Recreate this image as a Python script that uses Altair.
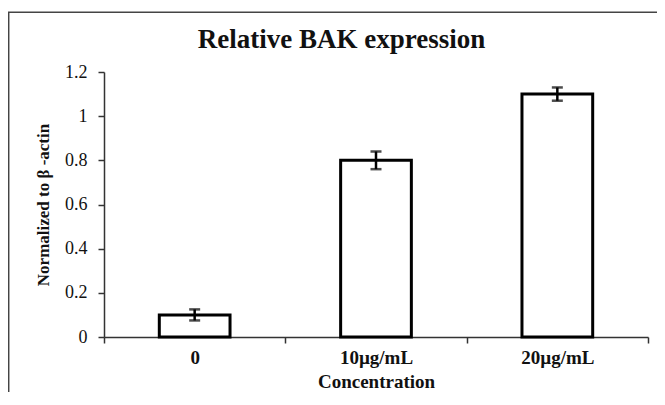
import altair as alt
import pandas as pd

categories = ["0", "10µg/mL", "20µg/mL"]
values = [0.1, 0.8, 1.1]
errors = [0.025, 0.04, 0.03]
y_ticks = [0, 0.2, 0.4, 0.6, 0.8, 1.0, 1.2]

df = pd.DataFrame({
    "cat": categories,
    "val": values,
    "lo": [v - e for v, e in zip(values, errors)],
    "hi": [v + e for v, e in zip(values, errors)],
})

FONT = "Liberation Serif"
AX = "#333333"

x_enc = alt.X(
    "cat:N", sort=categories,
    scale=alt.Scale(paddingInner=0, paddingOuter=0),
    axis=alt.Axis(
        title="Concentration", labelAngle=0, tickBand="extent",
        tickSize=6, tickWidth=1.5, tickColor=AX,
        domainColor=AX, domainWidth=1.5,
        labelPadding=20, labelBaseline="alphabetic",
        labelFont=FONT, labelFontSize=19, labelFontWeight="bold", labelColor="#111111",
        titleFont=FONT, titleFontSize=19, titleFontWeight="bold", titleColor="#111111",
        titleY=50, titleBaseline="alphabetic",
    ),
)

y_scale = alt.Scale(domain=[0, 1.2], nice=False)

bars = alt.Chart(df).mark_bar(
    width=alt.RelativeBandSize(0.39), fill="white", stroke="black", strokeWidth=3
).encode(
    x=x_enc,
    y=alt.Y(
        "val:Q", scale=y_scale,
        axis=alt.Axis(
            values=y_ticks, format="~g", grid=False,
            tickSize=6, tickWidth=1.5, tickColor=AX,
            domainColor=AX, domainWidth=1.5,
            labelPadding=11, labelFont=FONT, labelFontSize=18, labelColor="#111111",
            title="Normalized to β -actin", titleFont=FONT, titleFontSize=17,
            titleFontWeight="bold", titleColor="#111111",
            titleX=-61, titleY=132.5, titleAngle=270,
            titleBaseline="middle", titleAlign="center",
        ),
    ),
)

err = alt.Chart(df).mark_rule(strokeWidth=2.5, color="black").encode(
    x=alt.X("cat:N", sort=categories), y=alt.Y("lo:Q", scale=y_scale), y2="hi:Q"
)
cap_hi = alt.Chart(df).mark_tick(thickness=2.5, size=11, color="black").encode(
    x=alt.X("cat:N", sort=categories), y=alt.Y("hi:Q", scale=y_scale)
)
cap_lo = alt.Chart(df).mark_tick(thickness=2.5, size=11, color="black").encode(
    x=alt.X("cat:N", sort=categories), y=alt.Y("lo:Q", scale=y_scale)
)

title_df = pd.DataFrame({"t": ["Relative BAK expression"]})
title = alt.Chart(title_df).mark_text(
    font=FONT, fontSize=27, fontWeight="bold", color="#111111",
    align="center", baseline="alphabetic"
).encode(text="t:N", x=alt.value(237.5), y=alt.value(-24.3))

frame_left = alt.Chart(title_df).mark_rule(color="#444444", strokeWidth=1.5).encode(
    x=alt.value(-95.3), y=alt.value(-59.7), y2=alt.value(400)
)
frame_top = alt.Chart(title_df).mark_rule(color="#444444", strokeWidth=1.5).encode(
    x=alt.value(-96), x2=alt.value(600), y=alt.value(-59.7)
)

chart = alt.layer(frame_left, frame_top, bars, err, cap_hi, cap_lo, title).properties(
    width=544, height=265,
    autosize=alt.AutoSizeParams(type="none"),
    padding={"left": 96, "top": 64, "right": 9, "bottom": 55},
).configure_view(strokeWidth=0)

chart.save("out.html", embed_options={"renderer": "svg", "actions": False})
